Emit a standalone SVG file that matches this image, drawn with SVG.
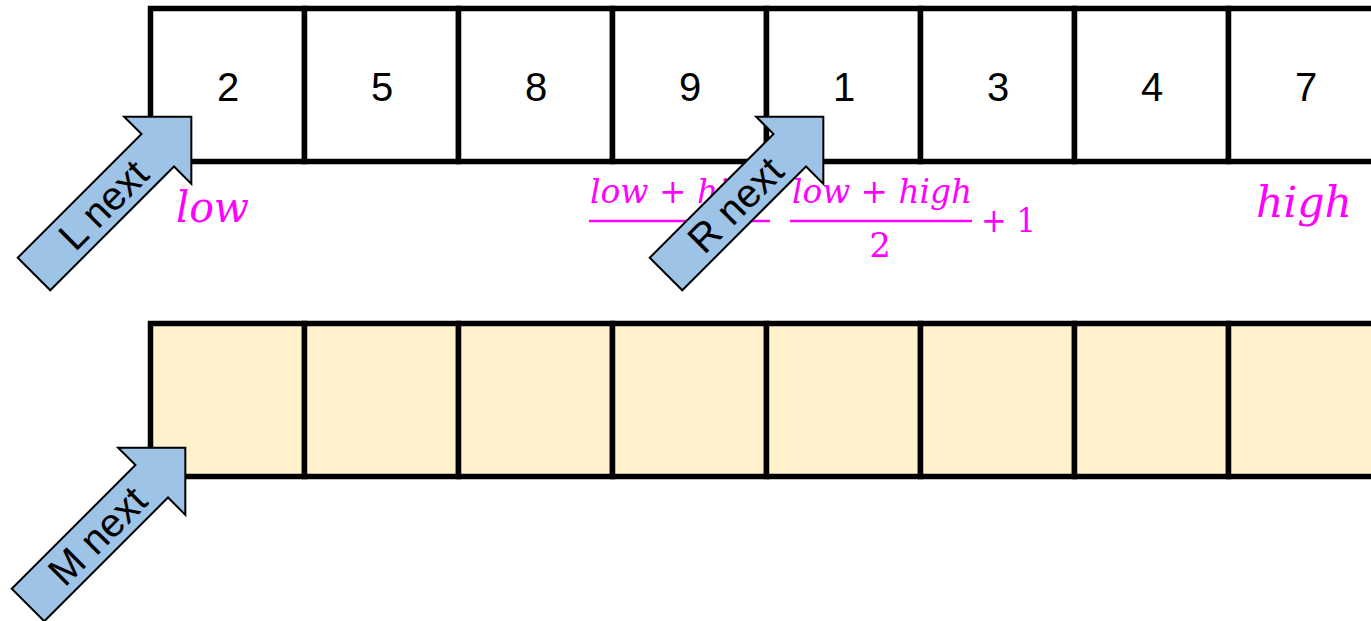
<svg xmlns="http://www.w3.org/2000/svg" width="1371" height="621" viewBox="0 0 1371 621">
<defs>
<style>
.cell{fill:#FFFFFF;stroke:#000;stroke-width:5.5}
.cellb{fill:#FFF2CC;stroke:#000;stroke-width:5.5}
.num{font-family:"Liberation Sans",Arial,sans-serif;font-size:40px;fill:#000;text-anchor:middle}
.m{font-family:"DejaVu Serif",serif;font-style:italic;fill:#FF00FF}
.mu{font-family:"DejaVu Serif",serif;fill:#FF00FF}
.arr{fill:#9DC3E6;stroke:#000;stroke-width:2;stroke-linejoin:miter}
.lab{font-family:"Liberation Sans",Arial,sans-serif;font-size:40px;fill:#000;text-anchor:middle}
</style>
<polygon id="blockarrow" class="arr" points="0,-23 175,-23 175,-47.5 222.5,0 175,47.5 175,23 0,23"/>
</defs>
<g id="top-row">
<rect class="cell" x="150.5" y="8.5" width="154" height="153"/>
<rect class="cell" x="304.5" y="8.5" width="154" height="153"/>
<rect class="cell" x="458.5" y="8.5" width="154" height="153"/>
<rect class="cell" x="612.5" y="8.5" width="154" height="153"/>
<rect class="cell" x="766.5" y="8.5" width="154" height="153"/>
<rect class="cell" x="920.5" y="8.5" width="154" height="153"/>
<rect class="cell" x="1074.5" y="8.5" width="154" height="153"/>
<rect class="cell" x="1228.5" y="8.5" width="154" height="153"/>
<text class="num" x="228" y="101">2</text>
<text class="num" x="382" y="101">5</text>
<text class="num" x="536" y="101">8</text>
<text class="num" x="690" y="101">9</text>
<text class="num" x="844" y="101">1</text>
<text class="num" x="998" y="101">3</text>
<text class="num" x="1152" y="101">4</text>
<text class="num" x="1306" y="101">7</text>
</g>
<g id="bottom-row">
<rect class="cellb" x="150.5" y="323.5" width="154" height="153"/>
<rect class="cellb" x="304.5" y="323.5" width="154" height="153"/>
<rect class="cellb" x="458.5" y="323.5" width="154" height="153"/>
<rect class="cellb" x="612.5" y="323.5" width="154" height="153"/>
<rect class="cellb" x="766.5" y="323.5" width="154" height="153"/>
<rect class="cellb" x="920.5" y="323.5" width="154" height="153"/>
<rect class="cellb" x="1074.5" y="323.5" width="154" height="153"/>
<rect class="cellb" x="1228.5" y="323.5" width="154" height="153"/>
</g>
<g id="labels">
<text class="m" x="176" y="222" font-size="43" textLength="73" lengthAdjust="spacingAndGlyphs">low</text>
<text class="m" x="1256" y="217" font-size="43" textLength="96" lengthAdjust="spacingAndGlyphs">high</text>
<text class="m" x="590" y="203" font-size="33" textLength="181" lengthAdjust="spacingAndGlyphs">low + high</text>
<line x1="589" y1="221" x2="770" y2="221" stroke="#FF00FF" stroke-width="2.5"/>
<text class="mu" x="680" y="257" font-size="34" text-anchor="middle">2</text>
<text class="m" x="792" y="203" font-size="33" textLength="180" lengthAdjust="spacingAndGlyphs">low + high</text>
<line x1="790" y1="221" x2="972" y2="221" stroke="#FF00FF" stroke-width="2.5"/>
<text class="mu" x="880" y="257" font-size="34" text-anchor="middle">2</text>
<text class="mu" x="981" y="232" font-size="34" textLength="55" lengthAdjust="spacingAndGlyphs">+ 1</text>
</g>
<g id="L-next" transform="translate(34,274) rotate(-45)">
<use href="#blockarrow"/>
<text class="lab" x="98" y="14">L next</text>
</g>
<g id="R-next" transform="translate(666,274) rotate(-45)">
<use href="#blockarrow"/>
<text class="lab" x="98" y="14">R next</text>
</g>
<g id="M-next" transform="translate(28,605) rotate(-45)">
<use href="#blockarrow"/>
<text class="lab" x="98" y="14">M next</text>
</g>
</svg>
